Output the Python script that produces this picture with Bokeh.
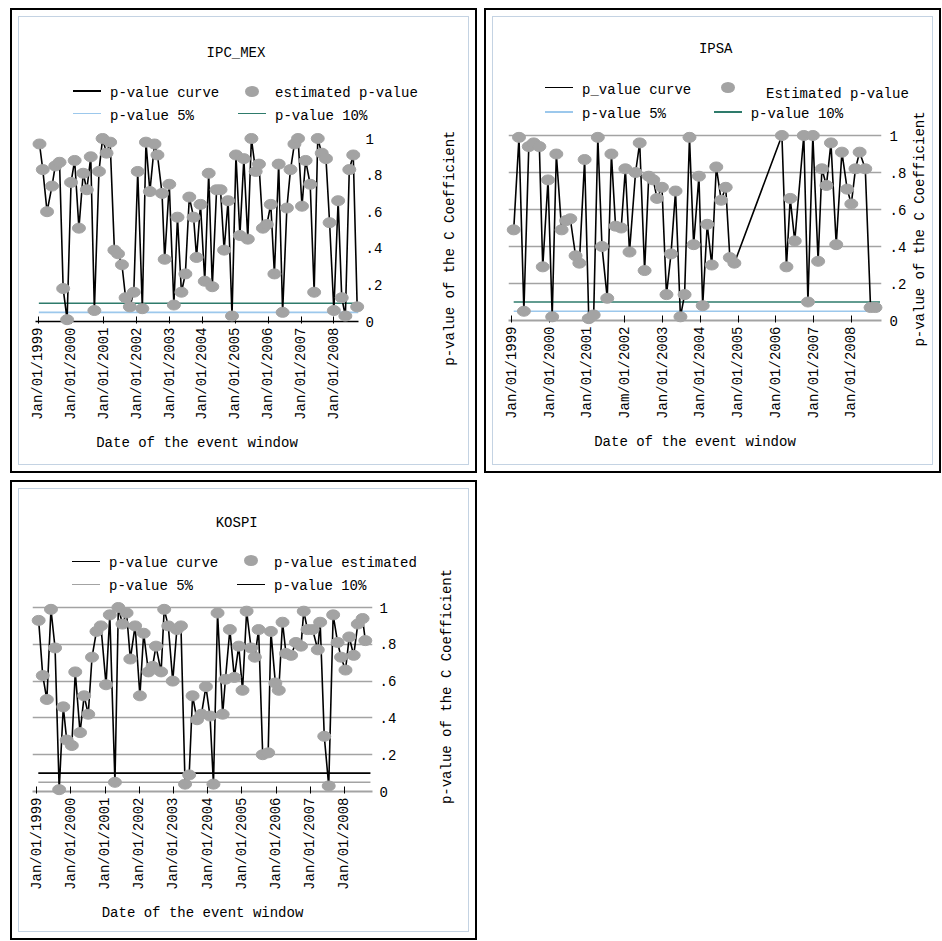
import math
from bokeh.plotting import figure
from bokeh.models import Range1d, FixedTicker, Label, Div
from bokeh.layouts import row, column
from bokeh.embed import file_html
from bokeh.resources import INLINE

# ---------------- data ----------------
year_ticks = [1999, 2000, 2001, 2002, 2003, 2004, 2005, 2006, 2007, 2008]
date_labels = ["Jan/01/1999", "Jan/01/2000", "Jan/01/2001", "Jan/01/2002", "Jan/01/2003",
               "Jan/01/2004", "Jan/01/2005", "Jan/01/2006", "Jan/01/2007", "Jan/01/2008"]
ipsa_date_labels = ["Jan/01/1999", "Jan/01/2000", "Jan/01/2001", "Jam/01/2002", "Jan/01/2003",
                    "Jan/01/2004", "Jan/01/2005", "Jan/01/2006", "Jan/01/2007", "Jan/01/2008"]
y_ticks = [0, 0.2, 0.4, 0.6, 0.8, 1]
y_tick_labels = ["0", ".2", ".4", ".6", ".8", "1"]
threshold_5 = 0.05
threshold_10 = 0.10

ipc_dates = [1999.04, 1999.14, 1999.27, 1999.42, 1999.52, 1999.65, 1999.76, 1999.88, 2000.00, 2000.11,
             2000.24, 2000.37, 2000.48, 2000.60, 2000.71, 2000.85, 2000.96, 2001.08, 2001.19, 2001.32,
             2001.43, 2001.55, 2001.66, 2001.79, 2001.91, 2002.03, 2002.17, 2002.28, 2002.40, 2002.54,
             2002.63, 2002.77, 2002.85, 2002.99, 2003.13, 2003.24, 2003.36, 2003.48, 2003.60, 2003.73,
             2003.82, 2003.94, 2004.07, 2004.19, 2004.30, 2004.43, 2004.55, 2004.66, 2004.78, 2004.90,
             2005.02, 2005.14, 2005.26, 2005.38, 2005.49, 2005.62, 2005.72, 2005.84, 2005.96, 2006.08,
             2006.19, 2006.32, 2006.44, 2006.57, 2006.68, 2006.80, 2006.91, 2007.03, 2007.14, 2007.28,
             2007.40, 2007.51, 2007.63, 2007.76, 2007.87, 2008.00, 2008.13, 2008.24, 2008.35, 2008.47,
             2008.59, 2008.71]
ipc_pvalues = [0.97, 0.83, 0.60, 0.74, 0.85, 0.87, 0.18, 0.01, 0.76, 0.88,
               0.51, 0.81, 0.72, 0.90, 0.06, 0.82, 1.00, 0.92, 0.98, 0.39,
               0.37, 0.31, 0.13, 0.08, 0.16, 0.82, 0.07, 0.98, 0.71, 0.97,
               0.91, 0.70, 0.34, 0.75, 0.09, 0.57, 0.16, 0.26, 0.68, 0.57,
               0.35, 0.64, 0.22, 0.81, 0.19, 0.72, 0.72, 0.39, 0.66, 0.03,
               0.91, 0.47, 0.89, 0.45, 1.00, 0.82, 0.86, 0.51, 0.53, 0.64,
               0.26, 0.86, 0.05, 0.62, 0.83, 0.97, 1.00, 0.63, 0.88, 0.75,
               0.16, 1.00, 0.92, 0.89, 0.54, 0.06, 0.66, 0.13, 0.03, 0.83,
               0.91, 0.08]

ipsa_dates = [1999.05, 1999.19, 1999.32, 1999.45, 1999.58, 1999.73, 1999.82, 1999.96, 2000.07, 2000.18,
              2000.32, 2000.44, 2000.55, 2000.69, 2000.79, 2000.93, 2001.04, 2001.17, 2001.28, 2001.39,
              2001.53, 2001.64, 2001.75, 2001.90, 2002.01, 2002.12, 2002.28, 2002.39, 2002.52, 2002.63,
              2002.75, 2002.85, 2002.98, 2003.10, 2003.22, 2003.34, 2003.47, 2003.58, 2003.71, 2003.82,
              2003.96, 2004.06, 2004.18, 2004.30, 2004.42, 2004.55, 2004.67, 2004.78, 2004.90, 2006.16,
              2006.28, 2006.38, 2006.50, 2006.74, 2006.85, 2006.98, 2007.12, 2007.22, 2007.34, 2007.46,
              2007.60, 2007.75, 2007.89, 2008.00, 2008.11, 2008.22, 2008.37, 2008.51, 2008.64]
ipsa_pvalues = [0.49, 0.99, 0.05, 0.94, 0.96, 0.94, 0.29, 0.76, 0.02, 0.90,
                0.49, 0.54, 0.55, 0.35, 0.31, 0.87, 0.01, 0.03, 0.99, 0.40,
                0.12, 0.90, 0.51, 0.50, 0.82, 0.37, 0.80, 0.96, 0.27, 0.78,
                0.76, 0.66, 0.72, 0.14, 0.36, 0.70, 0.02, 0.14, 0.99, 0.41,
                0.78, 0.08, 0.52, 0.30, 0.83, 0.65, 0.72, 0.34, 0.31, 1.00,
                0.29, 0.66, 0.43, 1.00, 0.10, 1.00, 0.32, 0.82, 0.73, 0.96,
                0.41, 0.91, 0.71, 0.63, 0.82, 0.91, 0.82, 0.07, 0.07]

kospi_dates = [1999.06, 1999.18, 1999.30, 1999.42, 1999.54, 1999.66, 1999.78, 1999.88, 2000.03, 2000.13,
               2000.27, 2000.39, 2000.51, 2000.62, 2000.75, 2000.88, 2001.03, 2001.14, 2001.29, 2001.39,
               2001.51, 2001.63, 2001.74, 2001.88, 2002.02, 2002.13, 2002.27, 2002.39, 2002.49, 2002.64,
               2002.73, 2002.85, 2002.98, 2003.10, 2003.22, 2003.34, 2003.46, 2003.56, 2003.69, 2003.82,
               2003.95, 2004.07, 2004.17, 2004.29, 2004.44, 2004.52, 2004.65, 2004.78, 2004.91, 2005.02,
               2005.14, 2005.27, 2005.38, 2005.49, 2005.61, 2005.77, 2005.85, 2005.98, 2006.08, 2006.19,
               2006.29, 2006.44, 2006.58, 2006.73, 2006.81, 2006.92, 2007.07, 2007.22, 2007.29, 2007.41,
               2007.54, 2007.67, 2007.80, 2007.90, 2008.03, 2008.14, 2008.27, 2008.39, 2008.53, 2008.61]
kospi_pvalues = [0.93, 0.63, 0.50, 0.99, 0.78, 0.01, 0.46, 0.28, 0.25, 0.65,
                 0.32, 0.52, 0.42, 0.73, 0.87, 0.90, 0.58, 0.96, 0.05, 1.00,
                 0.91, 0.97, 0.72, 0.90, 0.52, 0.86, 0.65, 0.68, 0.79, 0.65,
                 0.99, 0.90, 0.60, 0.88, 0.90, 0.04, 0.09, 0.52, 0.39, 0.42,
                 0.57, 0.41, 0.04, 0.97, 0.42, 0.61, 0.88, 0.62, 0.79, 0.55,
                 0.98, 0.78, 0.73, 0.88, 0.20, 0.21, 0.87, 0.59, 0.55, 0.92,
                 0.75, 0.74, 0.81, 0.79, 0.98, 0.88, 0.88, 0.77, 0.92, 0.30,
                 0.03, 0.96, 0.81, 0.73, 0.66, 0.84, 0.74, 0.91, 0.94, 0.82]

# date span of the 5% / 10% reference lines
ipc_threshold_span = [1999.02, 2008.75]
ipsa_threshold_span = [1999.05, 2008.76]
kospi_threshold_span = [1999.05, 2008.76]

# ---------------- styling ----------------
FONT = "Liberation Mono"
FS = "14px"
GRAY = "#a3a3a3"
BLUE = "#9cc8ec"
GREEN = "#2e7b6b"
PAD = 7        # px of room above 1 so markers at the top are not clipped
Y_TITLE = "p-value of the C Coefficient"


def blank(w, h):
    f = figure(width=w, height=h, title=None, x_range=Range1d(0, w), y_range=Range1d(0, h),
               x_axis_type=None, y_axis_type=None, toolbar_location=None, output_backend="svg",
               min_border_left=0, min_border_right=0, min_border_top=0, min_border_bottom=0)
    f.outline_line_color = None
    f.background_fill_color = "white"
    f.border_fill_color = "white"
    return f


def header_div(W, H, title, title_pos, items):
    css_font = "font-family:'Liberation Mono',monospace;font-size:14px;color:#000;"
    parts = [f'<div style="position:relative;width:{W}px;height:{H}px;{css_font}">']
    tx, ty = title_pos
    parts.append(f'<span style="position:absolute;left:{tx - 100:.1f}px;top:{ty - 9:.1f}px;'
                 f'width:200px;height:18px;line-height:18px;text-align:center;white-space:pre;">'
                 f'{title}</span>')
    for kind, gx, gy, color, label, lx, ly in items:
        if kind == "line":
            parts.append(f'<span style="position:absolute;left:{gx:.1f}px;top:{gy - 0.8:.1f}px;'
                         f'width:28px;height:1.6px;background:{color};"></span>')
        else:
            parts.append(f'<span style="position:absolute;left:{gx + 14 - 7:.1f}px;top:{gy - 5.5:.1f}px;'
                         f'width:14px;height:11px;border-radius:50%;background:{color};"></span>')
        parts.append(f'<span style="position:absolute;left:{lx:.1f}px;top:{ly - 9:.1f}px;'
                     f'height:18px;line-height:18px;white-space:pre;">{label}</span>')
    parts.append('</div>')
    return Div(text="".join(parts), width=W, height=H, margin=(0, 0, 0, 0))


def make_panel(name, dates, pvalues, span, x_labels, legend_labels, thr_colors, lay):
    fh = lay["fh"]
    W, H, HH, WL = lay["w"], lay["h"], lay["hh"], lay["wl"]
    MH = H - HH

    # ---- main plot ----
    p = figure(width=WL, height=MH, title=None,
               x_range=Range1d(*lay["xr"]), y_range=Range1d(0, 1 + PAD / fh),
               y_axis_location="right", toolbar_location=None, output_backend="svg",
               min_border_left=lay["bl"], min_border_right=WL - lay["fr"],
               min_border_top=0, min_border_bottom=MH - fh - PAD)
    p.outline_line_color = None
    p.background_fill_color = "white"
    p.border_fill_color = "white"

    p.xgrid.visible = False
    if lay["grid"]:
        p.ygrid.ticker = FixedTicker(ticks=y_ticks)
        p.ygrid.grid_line_color = GRAY
        p.ygrid.grid_line_width = 1.6
    else:
        p.ygrid.visible = False

    xa = p.xaxis[0]
    xa.ticker = FixedTicker(ticks=year_ticks)
    xa.major_label_overrides = dict(zip(year_ticks, x_labels))
    xa.major_label_orientation = math.pi / 2
    xa.major_label_text_font = FONT
    xa.major_label_text_font_size = FS
    xa.major_label_text_color = "black"
    xa.major_label_standoff = 4
    xa.major_tick_in = 5
    xa.major_tick_out = 2
    xa.major_tick_line_color = "black"
    xa.minor_tick_line_color = None
    xa.axis_line_color = lay["axis_color"]
    xa.axis_line_width = lay["axis_width"]
    xa.axis_label = "Date of the event window"
    xa.axis_label_text_font = FONT
    xa.axis_label_text_font_size = FS
    xa.axis_label_text_font_style = "normal"
    xa.axis_label_text_color = "black"
    xa.axis_label_standoff = 12

    ya = p.yaxis[0]
    ya.ticker = FixedTicker(ticks=y_ticks)
    ya.major_label_overrides = dict(zip(y_ticks, y_tick_labels))
    ya.major_label_text_font = FONT
    ya.major_label_text_font_size = FS
    ya.major_label_text_color = "black"
    ya.axis_line_color = None
    ya.major_tick_line_color = None
    ya.minor_tick_line_color = None
    ya.major_tick_in = 0
    ya.major_tick_out = 0
    ya.major_label_standoff = lay["ystand"]

    p.line(span, [threshold_5, threshold_5], line_color=thr_colors[0], line_width=1.6)
    p.line(span, [threshold_10, threshold_10], line_color=thr_colors[1], line_width=1.6)
    p.line(dates, pvalues, line_color="black", line_width=1.6)
    p.ellipse(dates, pvalues, width=13, height=10, width_units="screen", height_units="screen",
              fill_color=GRAY, line_color=GRAY, level="overlay")

    # ---- header: title + legend ----
    styles = ["black", GRAY, thr_colors[0], thr_colors[1]]
    kinds = ["line", "ellipse", "line", "line"]
    items = [(k, g[0], g[1], c, lab, t[0], t[1])
             for k, c, lab, g, t in zip(kinds, styles, legend_labels, lay["glyph_pos"], lay["text_pos"])]
    hd = header_div(WL, HH, name, lay["title_pos"], items)

    # ---- side strip: y-axis title ----
    sd = blank(W - WL, H)
    yx, yy = lay["ytitle_pos"]
    sd.add_layout(Label(x=yx - WL, y=H - yy, x_units="screen", y_units="screen",
                        text=Y_TITLE, angle=math.pi / 2,
                        text_align="center", text_baseline="middle",
                        text_font=FONT, text_font_size=FS, text_color="black"))

    return row(column(hd, p), sd)


def framed(content):
    inner = column(content, styles={"border": "1px solid #c4d3e3"})
    return column(inner, styles={"border": "2px solid #000000", "padding": "6px",
                                 "background-color": "#ffffff"})


# positions below are in px inside each panel's inner box (from its top-left)
panel1 = make_panel(
    "IPC_MEX", ipc_dates, ipc_pvalues, ipc_threshold_span, date_labels,
    ["p-value curve", "estimated p-value", "p-value 5%", "p-value 10%"],
    [BLUE, GREEN],
    dict(w=449, h=447, hh=114, wl=414, bl=16, fr=339, fh=183, xr=(1998.918, 2008.75),
         grid=False, axis_color="#000000", axis_width=1.5, ystand=7,
         glyph_pos=[(54.3, 74), (219.3, 74), (54.3, 96.7), (219.3, 96.7)],
         text_pos=[(91, 75.7), (256, 75.7), (91, 99), (256, 99)],
         title_pos=(217, 35.7), ytitle_pos=(430, 230.6)))

panel2 = make_panel(
    "IPSA", ipsa_dates, ipsa_pvalues, ipsa_threshold_span, ipsa_date_labels,
    ["p_value curve", "Estimated p-value", "p-value 5%", "p-value 10%"],
    [BLUE, GREEN],
    dict(w=439, h=447, hh=111, wl=418, bl=15, fr=388, fh=185, xr=(1998.912, 2008.80),
         grid=True, axis_color=GRAY, axis_width=2, ystand=8,
         glyph_pos=[(51.7, 70.7), (221, 70.7), (51.7, 95), (221, 95)],
         text_pos=[(89, 73.3), (273, 77.3), (89, 97.3), (257.7, 97)],
         title_pos=(222.7, 32.3), ytitle_pos=(426, 211.5)))

panel3 = make_panel(
    "KOSPI", kospi_dates, kospi_pvalues, kospi_threshold_span, date_labels,
    ["p-value curve", "p-value estimated", "p-value 5%", "p-value 10%"],
    [GRAY, "#000000"],
    dict(w=449, h=442, hh=111, wl=414, bl=13, fr=353, fh=184, xr=(1998.88, 2008.82),
         grid=True, axis_color=GRAY, axis_width=2, ystand=7,
         glyph_pos=[(53.3, 72.3), (218, 71.7), (53.3, 95.7), (218.3, 95.7)],
         text_pos=[(90, 74), (255, 74), (90, 97.3), (255, 97.3)],
         title_pos=(217.7, 34), ytitle_pos=(427.3, 197)))

layout = column(row(framed(panel1), framed(panel2), spacing=7), framed(panel3), spacing=7,
                margin=(8, 0, 0, 10))

open("out.html", "w").write(file_html(layout, INLINE))
